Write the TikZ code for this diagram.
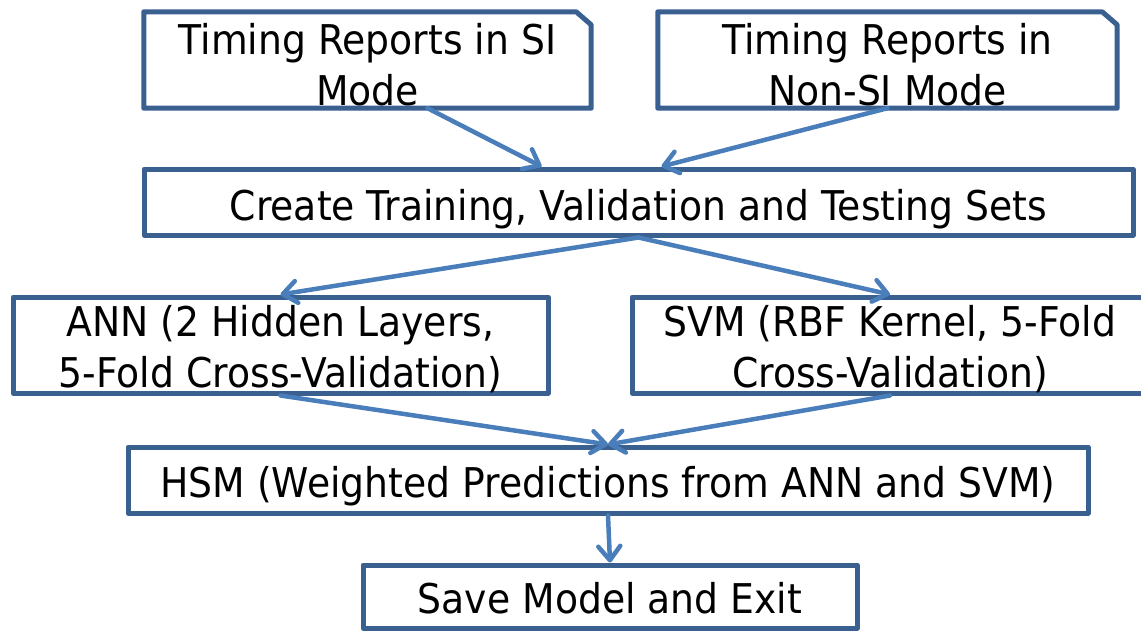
\documentclass[tikz,border=0pt]{standalone}
\usepackage{fontspec}
\setmainfont{DejaVu Sans}[FakeStretch=0.92]
\usetikzlibrary{arrows.meta}
\definecolor{boxline}{HTML}{3A6090}
\definecolor{arrowline}{HTML}{4A7EBB}
\tikzset{
  boxfont/.style={inner sep=0pt, align=center, text depth=0pt,
    font=\fontsize{41}{51}\selectfont},
  flowbox/.style={boxfont, draw=boxline, line width=5pt, line join=round},
  docline/.style={draw=boxline, line width=5pt, line join=round},
  flow/.style={draw=arrowline, line width=4.5pt, line cap=round,
    -{Straight Barb[length=14pt,width=22pt,round]}}
}
\begin{document}
\begin{tikzpicture}[x=1pt,y=-1pt]
\useasboundingbox (0,0) rectangle (1141,632);

% input reports (boxes with a clipped top-right corner)
\node[boxfont, text height=90pt, minimum width=447pt, minimum height=96pt] (si) at (367.5,60)
  {Timing Reports in SI\\Mode};
\node[boxfont, text height=90pt, minimum width=459pt, minimum height=96pt] (nonsi) at (887.5,60)
  {Timing Reports in\\Non-SI Mode};
\foreach \n in {si,nonsi}{
  \draw[docline] (\n.north west) -- ([xshift=-15pt]\n.north east)
    -- ([yshift=-13pt]\n.north east) -- (\n.south east) -- (\n.south west) -- cycle;
}

% processing steps
\node[flowbox, text height=36pt, minimum width=989pt, minimum height=66pt] (create) at (638.5,202)
  {Create Training, Validation and Testing Sets};
\node[flowbox, text height=84pt, minimum width=535pt, minimum height=96pt] (ann) at (280.5,345)
  {ANN (2 Hidden Layers,\\5-Fold Cross-Validation)};
\node[flowbox, text height=84pt, minimum width=516pt, minimum height=96pt] (svm) at (890,345)
  {SVM (RBF Kernel, 5-Fold\\Cross-Validation)};
\node[flowbox, text height=34pt, minimum width=960pt, minimum height=66pt] (hsm) at (608,480)
  {HSM (Weighted Predictions from ANN and SVM)};
\node[flowbox, text height=34pt, minimum width=494pt, minimum height=63pt] (save) at (610,596.5)
  {Save Model and Exit};

% connectors
\draw[flow] ([xshift=60pt]si.south) -- ([xshift=-97pt]create.north);
\draw[flow] (nonsi.south) -- ([xshift=23pt]create.north);
\draw[flow] (create.south) -- (ann.north);
\draw[flow] (create.south) -- (svm.north);
\draw[flow] (ann.south) -- (hsm.north);
\draw[flow] (svm.south) -- (hsm.north);
\draw[flow] (hsm.south) -- (save.north);
\end{tikzpicture}
\end{document}
